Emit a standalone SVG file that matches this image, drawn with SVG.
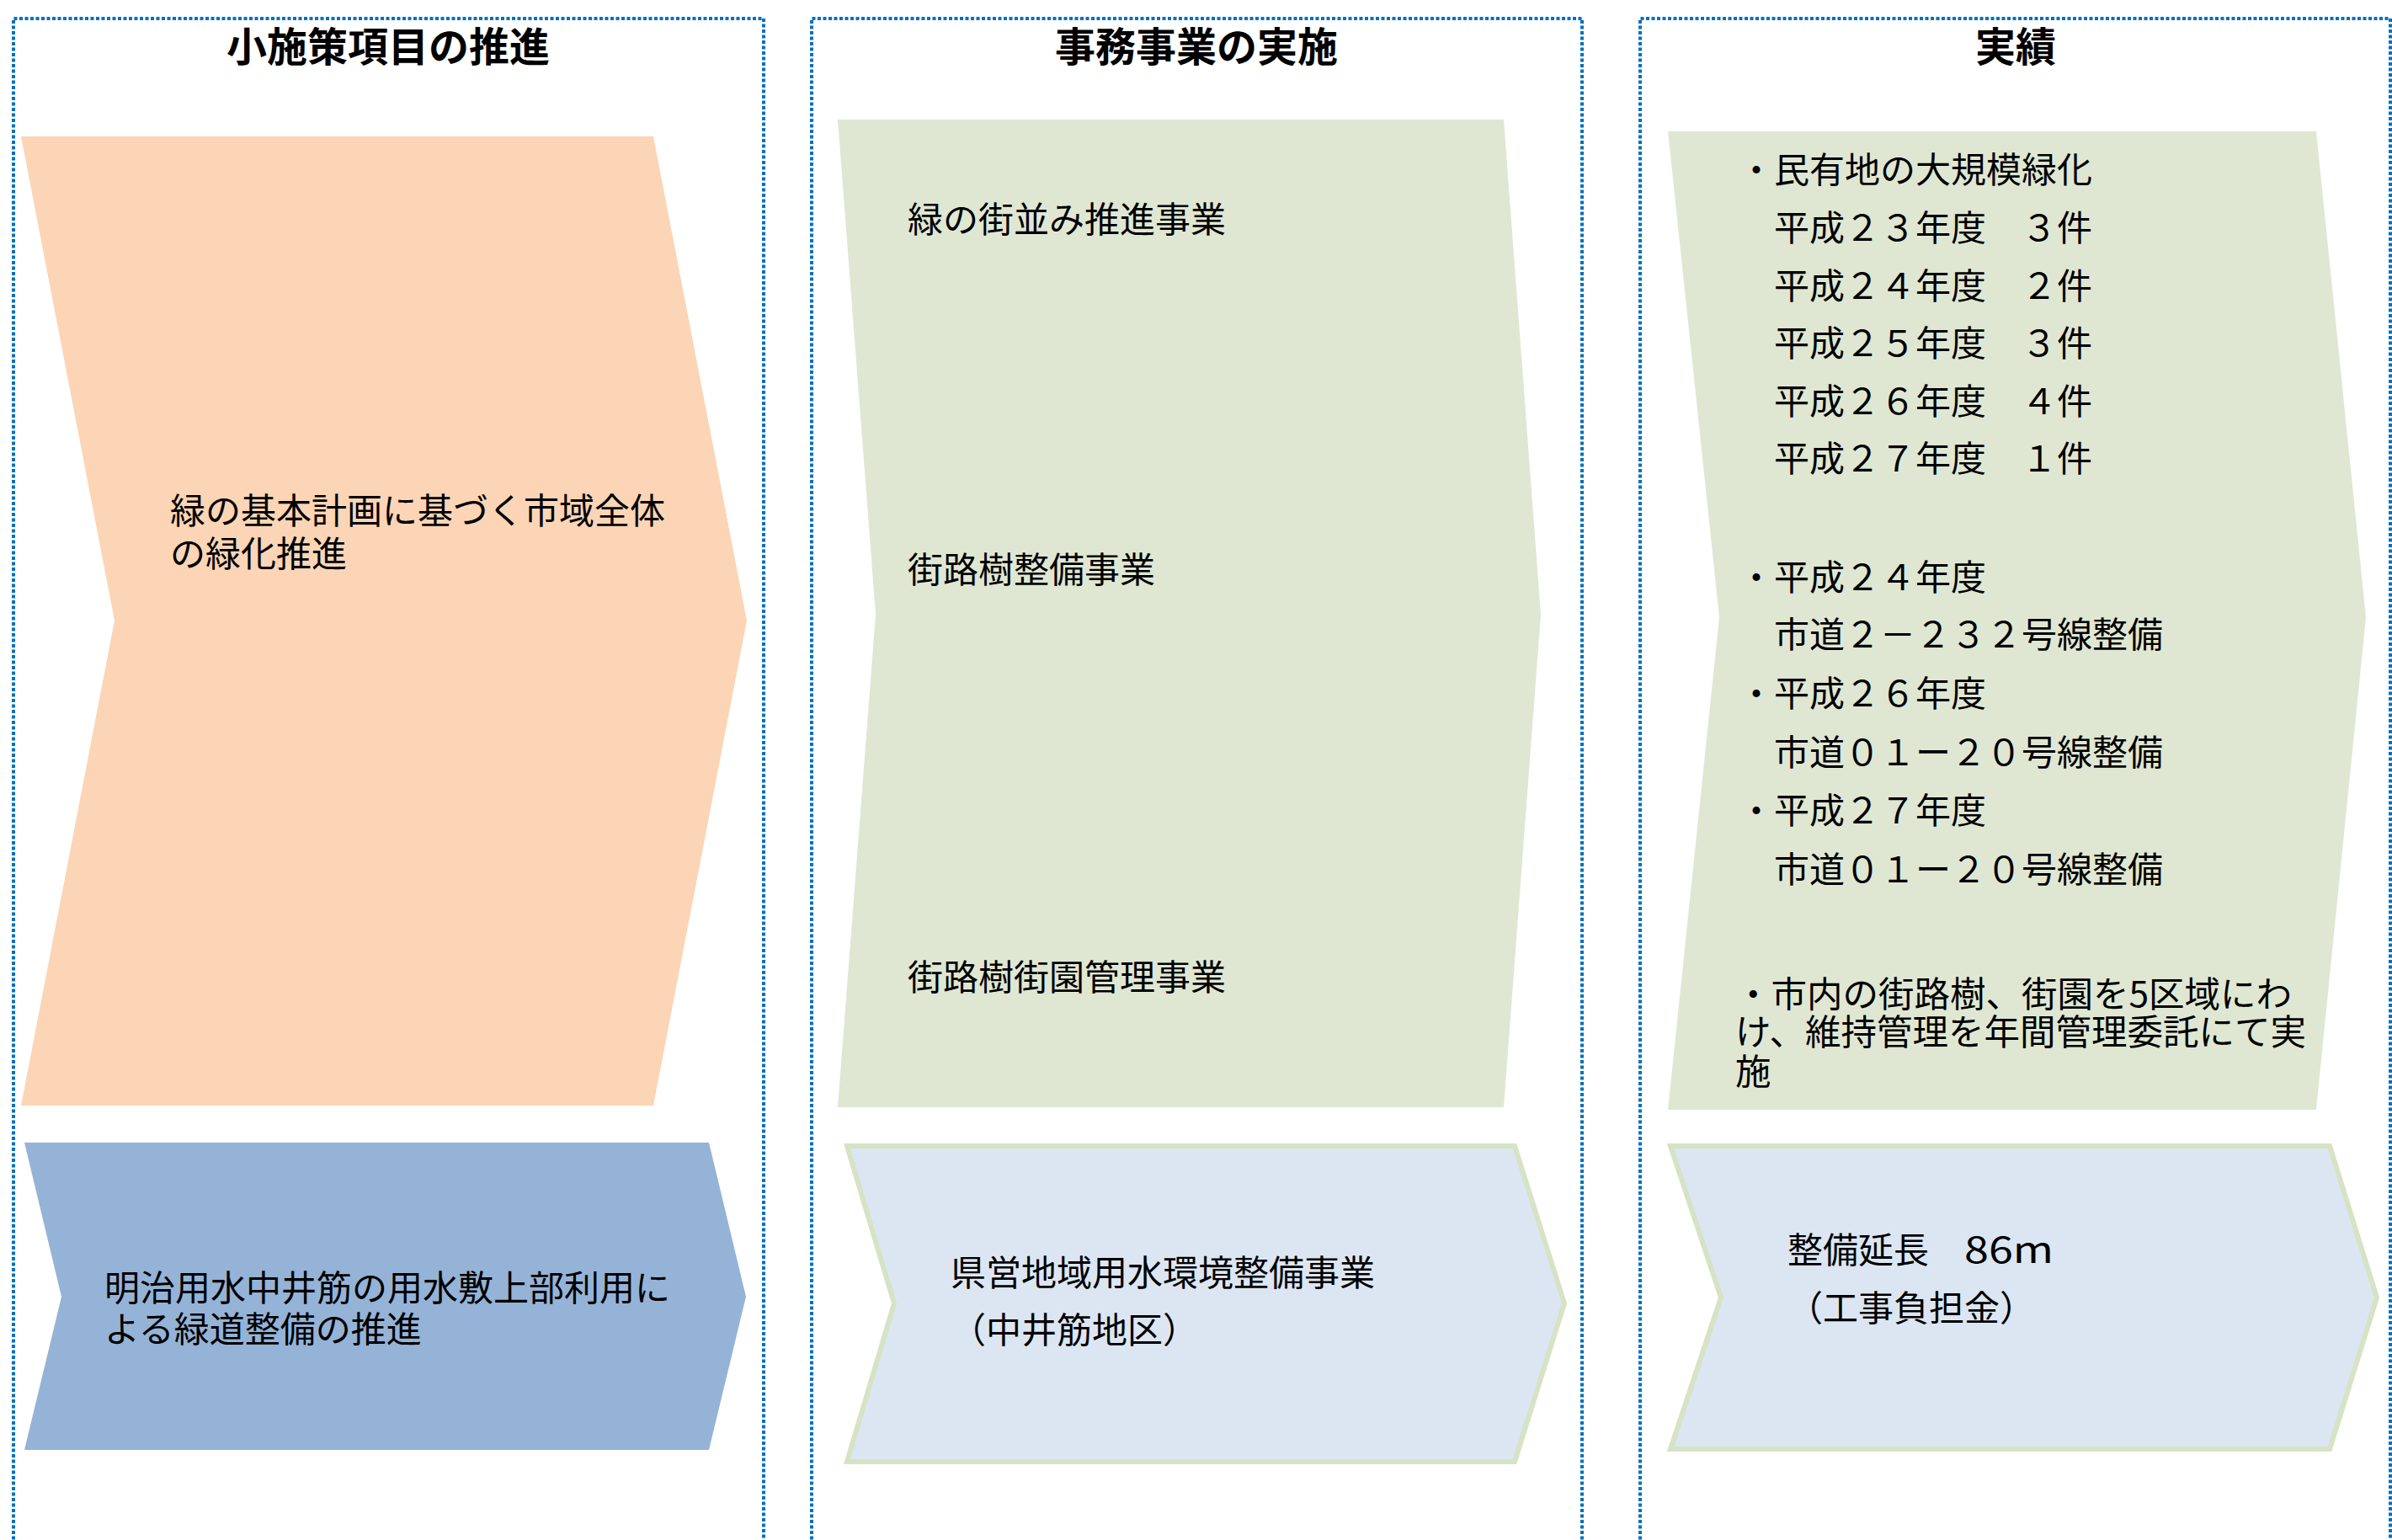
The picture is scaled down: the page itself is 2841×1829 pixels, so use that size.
<svg xmlns="http://www.w3.org/2000/svg" width="2841" height="1829" viewBox="0 0 2841 1829">
<style>
  .frame { fill: none; stroke: #0070C0; stroke-width: 4; stroke-dasharray: 4 2.5; }
  .title { font-family: "Noto Sans CJK JP", sans-serif; font-size: 48px; font-weight: 700; fill: #000; text-anchor: middle; }
  .t { font-family: "Noto Sans CJK JP", sans-serif; font-size: 42px; fill: #000; }
  .orange { fill: #FBD5B5; }
  .blue { fill: #95B3D7; }
  .green { fill: #DFE7D3; }
  .lblue { fill: #DCE6F2; stroke: #D6E3C4; stroke-width: 6; }
</style>
<rect x="0" y="0" width="2841" height="1829" fill="#FFFFFF"/>

<g id="frame-1">
  <path class="frame" d="M16,1835 V22 H907 V1835"/>
  <text class="title" x="461" y="73">小施策項目の推進</text>
</g>
<g id="frame-2">
  <path class="frame" d="M964,1835 V22 H1879 V1835"/>
  <text class="title" x="1421" y="73">事務事業の実施</text>
</g>
<g id="frame-3">
  <path class="frame" d="M1948,1835 V22 H2839 V1835"/>
  <text class="title" x="2394" y="73">実績</text>
</g>

<g id="node-green-plan">
  <polygon class="orange" points="25,162 776,162 887,737 776,1313 25,1313 136,737"/>
  <text class="t" x="202" y="622">緑の基本計画に基づく市域全体<tspan x="202" dy="51">の緑化推進</tspan></text>
</g>

<g id="node-meiji">
  <polygon class="blue" points="29,1357 842,1357 886,1540 842,1722 29,1722 73,1540"/>
  <text class="t" x="124" y="1545">明治用水中井筋の用水敷上部利用に<tspan x="124" dy="49">よる緑道整備の推進</tspan></text>
</g>

<g id="node-projects">
  <polygon class="green" points="995,142 1786,142 1830,730 1786,1315 995,1315 1040,730"/>
  <text class="t" x="1078" y="276">緑の街並み推進事業</text>
  <text class="t" x="1078" y="692">街路樹整備事業</text>
  <text class="t" x="1078" y="1176">街路樹街園管理事業</text>
</g>

<g id="node-prefecture">
  <polygon class="lblue" points="1006,1361 1799,1361 1858,1548 1799,1736 1006,1736 1062,1548"/>
  <text class="t" x="1129" y="1527">県営地域用水環境整備事業</text>
  <text class="t" x="1129" y="1595">（中井筋地区）</text>
</g>

<g id="node-results">
  <polygon class="green" points="1981,156 2751,156 2810,733 2751,1318 1981,1318 2042,733"/>
  <text class="t" x="2065" y="217">・民有地の大規模緑化</text>
  <text class="t" x="2107" y="286">平成２３年度　３件</text>
  <text class="t" x="2107" y="355">平成２４年度　２件</text>
  <text class="t" x="2107" y="423">平成２５年度　３件</text>
  <text class="t" x="2107" y="492">平成２６年度　４件</text>
  <text class="t" x="2107" y="560">平成２７年度　１件</text>
  <text class="t" x="2065" y="701">・平成２４年度</text>
  <text class="t" x="2107" y="769">市道２－２３２号線整備</text>
  <text class="t" x="2065" y="839">・平成２６年度</text>
  <text class="t" x="2107" y="909">市道０１ー２０号線整備</text>
  <text class="t" x="2065" y="978">・平成２７年度</text>
  <text class="t" x="2107" y="1048">市道０１ー２０号線整備</text>
  <text class="t" x="2061" y="1196" style="font-size:42.5px">・市内の街路樹、街園を5区域にわ<tspan x="2061" dy="45">け、維持管理を年間管理委託にて実</tspan><tspan x="2061" dy="47">施</tspan></text>
</g>

<g id="node-length">
  <polygon class="lblue" points="1984,1361 2767,1361 2823,1541 2767,1721 1984,1721 2044,1541"/>
  <text class="t" x="2123" y="1500">整備延長　<tspan textLength="106" lengthAdjust="spacingAndGlyphs">86m</tspan></text>
  <text class="t" x="2123" y="1569">（工事負担金）</text>
</g>

<g id="connectors"></g>
</svg>
